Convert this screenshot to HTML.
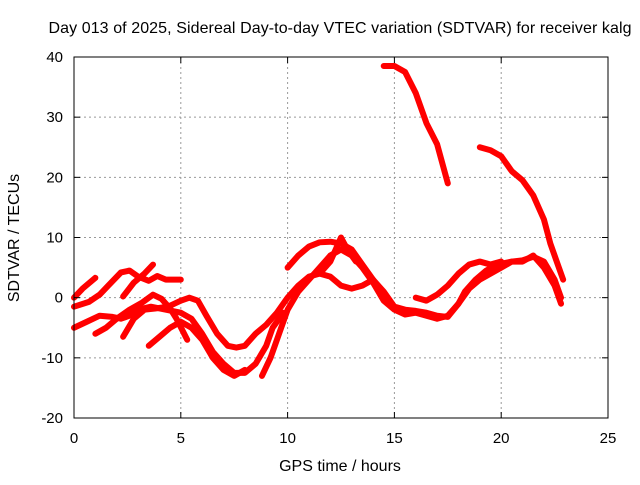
<!DOCTYPE html>
<html><head><meta charset="utf-8"><style>
body{margin:0;background:#fff}
svg text{font-family:"Liberation Sans",sans-serif;font-size:15px;fill:#000}
svg text.big{font-size:16px}
</style></head><body>
<svg id="chart" width="640" height="480">
<text class="big" x="340" y="33" text-anchor="middle" textLength="583">Day 013 of 2025, Sidereal Day-to-day VTEC variation (SDTVAR) for receiver kalg</text>
<g id="grid"></g><g id="series"></g><g id="axes"></g>
<text class="big" x="340" y="471" text-anchor="middle">GPS time / hours</text>
<text class="big" transform="translate(19,238) rotate(-90)" text-anchor="middle">SDTVAR / TECUs</text>
</svg>
<script>
const xTicks=[0,5,10,15,20,25];
const yTicks=[-20,-10,0,10,20,30,40];
const s1=[[0,0],[0.4,1.5],[1,3.3]];
const s2=[[0,-1.5],[0.7,-0.7],[1.2,0.5],[1.6,2],[2.2,4.2],[2.6,4.5],[3,3.5],[3.5,2.8],[3.9,3.6],[4.3,3],[5,3]];
const s3=[[2.3,0.2],[2.8,2.5],[3.3,4],[3.7,5.5]];
const s4=[[0,-5],[0.6,-4],[1.2,-3],[1.8,-3.2],[2.2,-3.5],[2.6,-3],[3,-2],[3.6,-1.5],[4.3,-2],[5,-2.5],[5.5,-3.5],[6,-6],[6.5,-9],[7,-11],[7.5,-12.5],[8,-12.5],[8.5,-11],[9,-8],[9.3,-5],[9.8,-2.5]];
const s5=[[1,-6],[1.5,-5],[2,-3.5],[2.6,-2],[3.2,-0.8],[3.7,0.5],[4.1,-0.2],[4.5,-1.8],[4.8,-3.5],[5.3,-7]];
const s6=[[2.3,-6.5],[2.8,-3.5],[3.3,-2],[3.8,-1.8],[4.4,-1.5],[5,-0.5],[5.4,0],[5.8,-0.5],[6.2,-3],[6.7,-6],[7.2,-8],[7.6,-8.3],[8,-8],[8.5,-6],[9,-4.5],[9.5,-2.5],[10,0],[10.5,2],[11,3.5],[11.5,4],[12,3.5],[12.5,2],[13,1.5],[13.5,2],[14,3],[14.5,1],[15,-1.5],[15.5,-2],[16,-2.2],[16.5,-2.5],[17,-3],[17.5,-3.2],[18,-1],[18.5,1.5],[19,3],[19.5,4],[20,5],[20.5,6],[21,6],[21.5,7],[22,5],[22.5,2],[22.8,-1]];
const s7=[[3.5,-8],[4,-6.5],[4.5,-5],[5,-4],[5.5,-5],[6,-7],[6.5,-10],[7,-12],[7.5,-13],[8,-12]];
const s8=[[8.8,-13],[9.2,-10],[9.6,-6],[10,-2],[10.5,1],[11,3],[11.5,5],[12,7],[12.5,8],[13,7],[13.5,5],[14,2.5],[14.5,-0.5],[15,-2],[15.5,-2.8],[16,-2.5],[16.5,-3],[17,-3.5],[17.5,-3],[18,-1],[18.3,1],[18.8,3],[19.3,4.5],[19.8,5.5],[20.5,6],[21,6.2],[21.5,6.8],[22,6],[22.5,3],[22.8,0]];
const s9=[[10,5],[10.5,7],[11,8.5],[11.5,9.2],[12,9.3],[12.5,9],[13,8],[13.5,5.5],[14,3]];
const s10=[[11.5,4],[12,6],[12.5,10],[12.8,8],[13.2,6]];
const s11=[[16,0],[16.5,-0.5],[17,0.5],[17.5,2],[18,4],[18.5,5.5],[19,6],[19.5,5.5],[20,6]];
const s12=[[14.5,38.5],[15,38.5],[15.5,37.5],[16,34],[16.5,29],[17,25.5],[17.5,19]];
const s13=[[19,25],[19.5,24.5],[20,23.5],[20.5,21],[21,19.5],[21.5,17],[22,13],[22.3,9],[22.6,6],[22.9,3]];
const allSeries=[s1,s2,s3,s4,s5,s6,s7,s8,s9,s10,s11,s12,s13];
const L=74,R=608,T=57,B=418;
const xs=v=>L+(v-0)/25*(R-L);
const ys=v=>B-(v+20)/60*(B-T);
const NS="http://www.w3.org/2000/svg";
function mk(tag,attrs,parent){const e=document.createElementNS(NS,tag);for(const k in attrs)e.setAttribute(k,attrs[k]);parent.appendChild(e);return e;}
const grid=document.getElementById('grid'),axes=document.getElementById('axes'),ser=document.getElementById('series');
xTicks.forEach(t=>{
  const x=xs(t);
  if(t>0&&t<25){const g=mk('line',{x1:x,x2:x,y1:T,y2:B,stroke:'#999','stroke-dasharray':'2,3'},grid);
  
  }
  mk('line',{x1:x,x2:x,y1:B,y2:B-6,stroke:'#000'},axes);
  mk('line',{x1:x,x2:x,y1:T,y2:T+6,stroke:'#000'},axes);
  const tx=mk('text',{x:x,y:B+25,'text-anchor':'middle'},axes);tx.textContent=t;
  
  
});
yTicks.forEach(t=>{
  const y=ys(t);
  if(t>-20&&t<40){const g=mk('line',{x1:L,x2:R,y1:y,y2:y,stroke:'#999','stroke-dasharray':'2,3'},grid);
  
  }
  mk('line',{x1:L,x2:L+6,y1:y,y2:y,stroke:'#000'},axes);
  mk('line',{x1:R,x2:R-6,y1:y,y2:y,stroke:'#000'},axes);
  const tx=mk('text',{x:L-11,y:y+5,'text-anchor':'end'},axes);tx.textContent=t;
  
  
});
const fr=mk('rect',{x:L,y:T,width:R-L,height:B-T,fill:'none',stroke:'#000'},axes);


allSeries.forEach((s,i)=>{
  const p=mk('polyline',{points:s.map(d=>xs(d[0])+','+ys(d[1])).join(' '),fill:'none',stroke:'#ff0000','stroke-width':6,'stroke-linejoin':'round','stroke-linecap':'round'},ser);
  
  
});
</script>
</body></html>
